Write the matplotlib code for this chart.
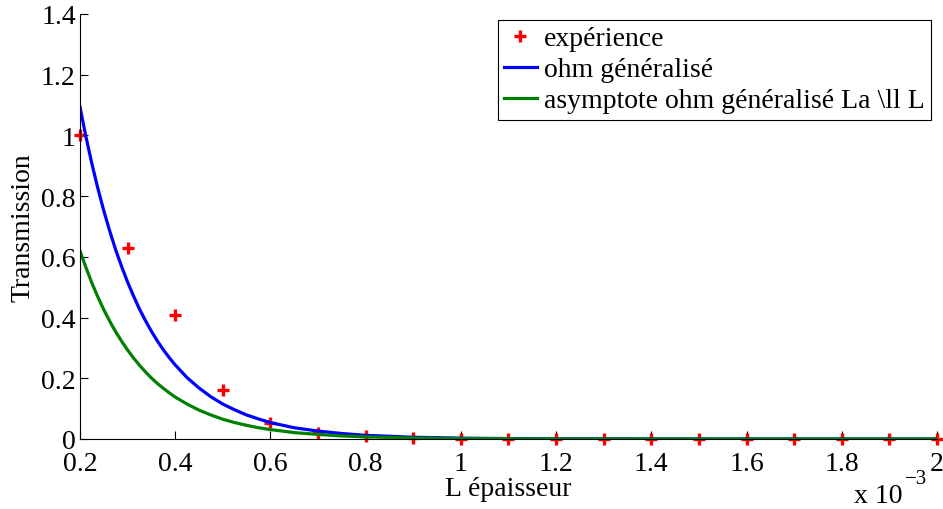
import matplotlib.pyplot as plt

plt.rcParams['font.family'] = ['Liberation Serif', 'DejaVu Serif']
plt.rcParams['mathtext.fontset'] = 'stix'

# Experimental points (L in units of 1e-3)
L_exp = [0.2, 0.3, 0.4, 0.5, 0.6, 0.7, 0.8, 0.9, 1.0, 1.1, 1.2, 1.3, 1.4,
         1.5, 1.6, 1.7, 1.8, 1.9, 2.0]
T_exp = [1.0, 0.63, 0.41, 0.16, 0.053, 0.02, 0.01, 0.004, 0.001, 0.0, 0.0,
         0.0, 0.0, 0.0, 0.0, 0.0, 0.0, 0.0, 0.0]

# Curves
L_curve = [0.2, 0.2125, 0.225, 0.2375, 0.25, 0.2625, 0.275, 0.2875, 0.3,
           0.3125, 0.325, 0.3375, 0.35, 0.3625, 0.375, 0.3875, 0.4,
           0.425, 0.45, 0.475, 0.5, 0.525, 0.55, 0.575, 0.6,
           0.65, 0.7, 0.75, 0.8, 0.9, 1.0, 1.1, 1.2, 1.5, 2.0]
T_ohm = [1.094, 0.996, 0.907, 0.826, 0.752, 0.685, 0.623, 0.568, 0.517,
         0.471, 0.428, 0.390, 0.355, 0.323, 0.294, 0.268, 0.244,
         0.202, 0.168, 0.139, 0.115, 0.096, 0.079, 0.066, 0.054,
         0.037, 0.026, 0.018, 0.012, 0.0057, 0.0027, 0.0013, 0.0006,
         0.0001, 0.0]
T_asym = [0.62, 0.565, 0.514, 0.468, 0.426, 0.388, 0.353, 0.322, 0.293,
          0.267, 0.243, 0.221, 0.201, 0.183, 0.167, 0.152, 0.138,
          0.115, 0.095, 0.079, 0.065, 0.054, 0.045, 0.037, 0.031,
          0.021, 0.015, 0.010, 0.007, 0.0032, 0.0015, 0.0007, 0.0003,
          0.0, 0.0]

fig = plt.figure(figsize=(9.43, 5.10), dpi=100)
ax = fig.add_axes([0.0848, 0.1373, 0.9088, 0.8333])

ax.plot(L_exp, T_exp, '+', color='red', markersize=8.5, mew=2.4,
        label='expérience', clip_on=False)
ax.plot(L_curve, T_ohm, color='blue', lw=2.3, label='ohm généralisé')
ax.plot(L_curve, T_asym, color=(0, 0.5, 0), lw=2.3,
        label='asymptote ohm généralisé La \\ll L')

ax.set_xlim(0.2, 2.0)
ax.set_ylim(0, 1.4)
ax.set_xticks([0.2, 0.4, 0.6, 0.8, 1.0, 1.2, 1.4, 1.6, 1.8, 2.0])
ax.set_xticklabels(['0.2', '0.4', '0.6', '0.8', '1', '1.2', '1.4', '1.6',
                    '1.8', '2'])
ax.set_yticks([0, 0.2, 0.4, 0.6, 0.8, 1.0, 1.2, 1.4])
ax.set_yticklabels(['0', '0.2', '0.4', '0.6', '0.8', '1', '1.2', '1.4'])
ax.tick_params(direction='in', length=6, width=0.8, labelsize=20)
ax.tick_params(axis='x', pad=9)
ax.tick_params(axis='y', pad=3)
for s in ['top', 'right']:
    ax.spines[s].set_visible(False)

ax.set_xlabel('L épaisseur', fontsize=20, labelpad=0)
ax.set_ylabel('Transmission', fontsize=20, labelpad=4)
fig.text(903 / 943, 0.0137, 'x 10', fontsize=20, ha='right', va='baseline')
fig.text(905 / 943, 0.051, '\u22123', fontsize=15, ha='left', va='baseline')

leg = ax.legend(loc='upper right', bbox_to_anchor=(0.993, 0.986),
                fontsize=20, fancybox=False, edgecolor='black', framealpha=1,
                handlelength=1.2, handletextpad=0.25, borderpad=0.22,
                labelspacing=0.2, borderaxespad=0.0)
leg.get_frame().set_linewidth(0.8)

fig.savefig('out.png', dpi=100)
